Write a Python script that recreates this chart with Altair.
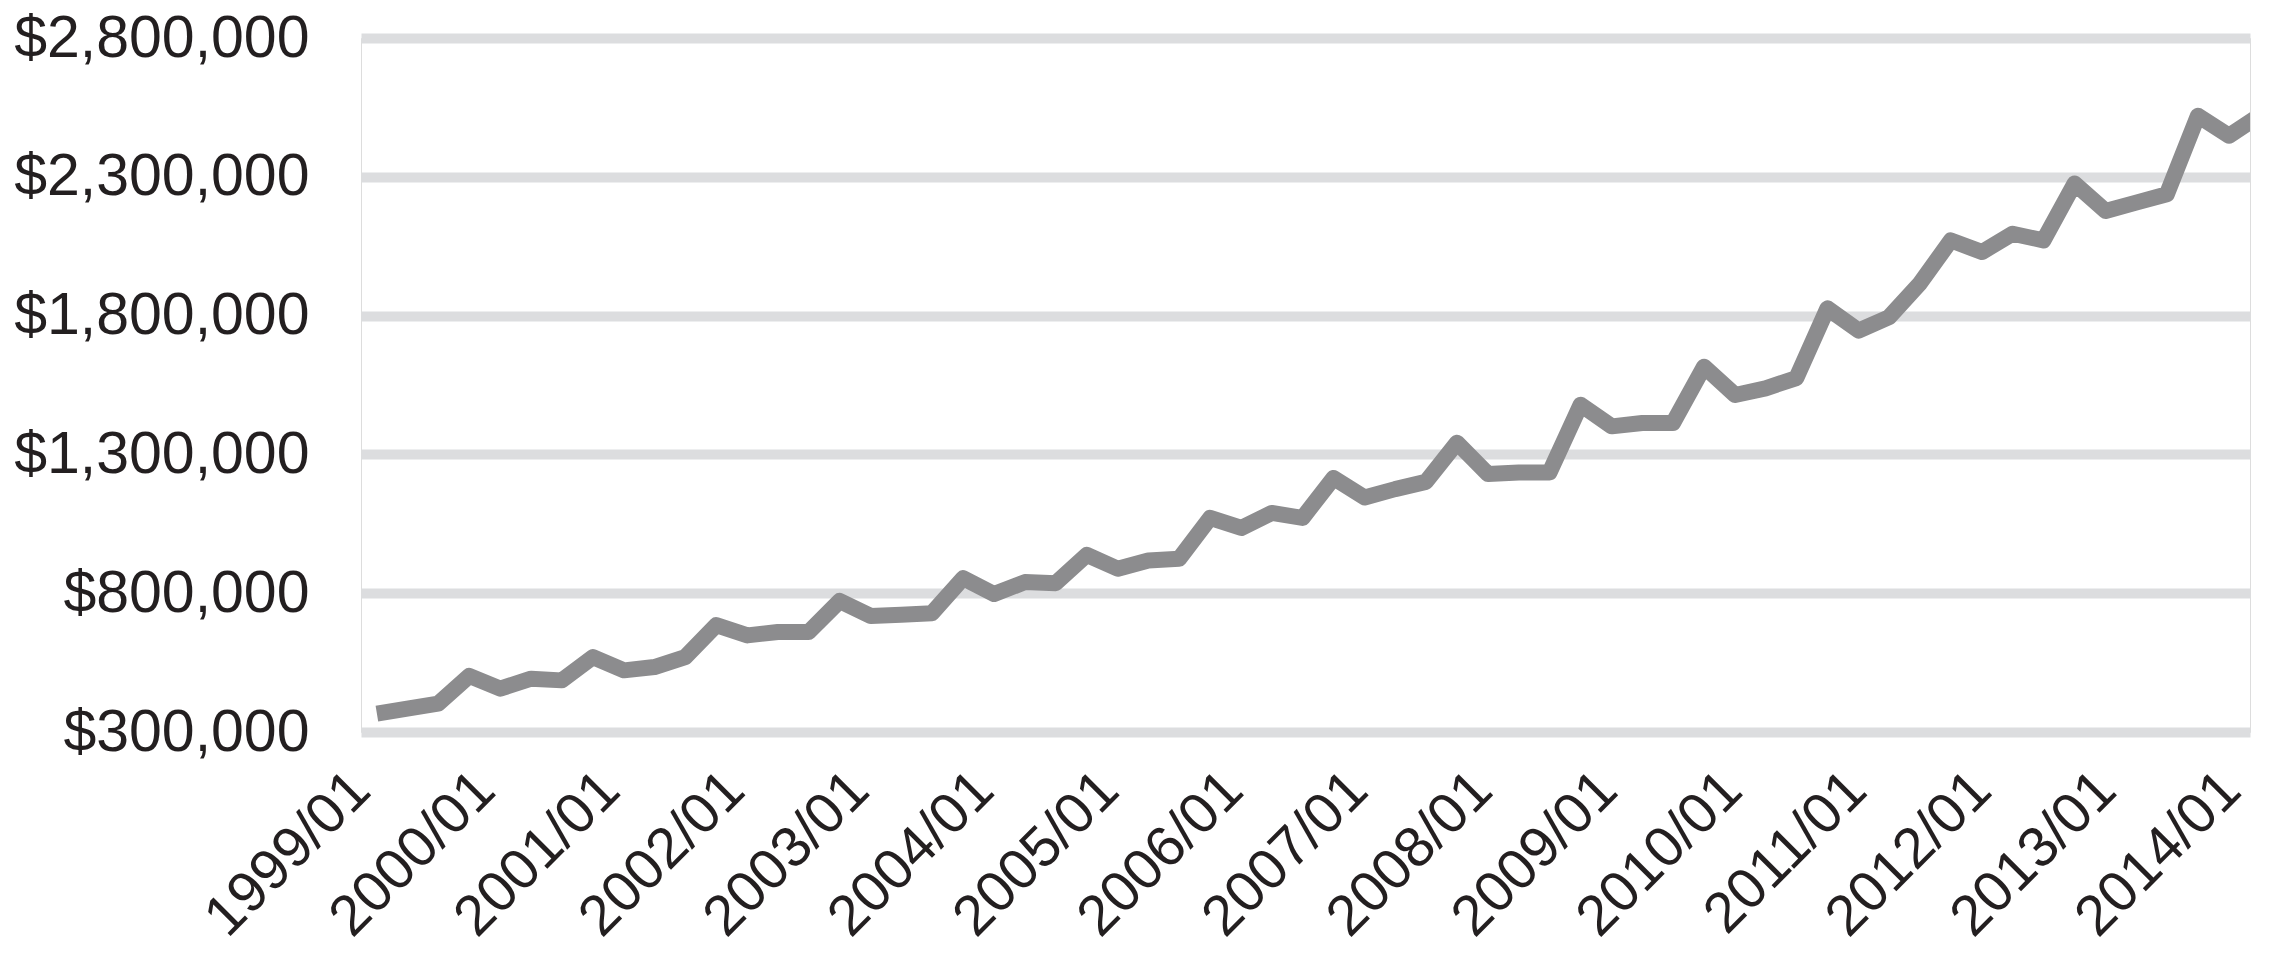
import datetime as dt
import altair as alt
import pandas as pd

# ---- data ----
quarter_months = ["01", "04", "07", "10"]
periods = [f"{y}/{m}" for y in range(1999, 2014) for m in quarter_months] + ["2014/01", "2014/04"]

values = [
    366000, 384000, 402000, 502000,      # 1999
    456000, 492000, 486000, 570000,      # 2000
    522000, 534000, 570000, 685000,      # 2001
    648000, 660000, 660000, 772000,      # 2002
    718000, 722000, 728000, 854000,      # 2003
    797000, 840000, 836000, 938000,      # 2004
    888000, 918000, 924000, 1071000,     # 2005
    1035000, 1089000, 1071000, 1215000,  # 2006
    1145000, 1175000, 1201000, 1342000,  # 2007
    1229000, 1235000, 1235000, 1479000,  # 2008
    1401000, 1413000, 1413000, 1616000,  # 2009
    1514000, 1538000, 1575000, 1826000,  # 2010
    1746000, 1794000, 1915000, 2071000,  # 2011
    2029000, 2095000, 2071000, 2276000,  # 2012
    2177000, 2207000, 2237000, 2520000,  # 2013
    2448000, 2520000,                    # 2014
]

tick_years = list(range(1999, 2015))
y_ticks = [300000, 800000, 1300000, 1800000, 2300000, 2800000]

df = pd.DataFrame({"period": [p + "/01" for p in periods], "value": values})

# label anchors: the reference's year labels sit a little wider apart than the quarters
label_dates = []
for k, y in enumerate(tick_years):
    d = dt.date(y, 1, 1) + dt.timedelta(days=round(3.6 * k))
    label_dates.append(alt.DateTime(year=d.year, month=d.month, date=d.day))

FONT = "Liberation Sans"
TEXT = "#231f20"

chart = (
    alt.Chart(df)
    .mark_line(color="#8c8c8e", strokeWidth=16, strokeJoin="round", clip=True)
    .encode(
        x=alt.X(
            "period:T",
            title=None,
            scale=alt.Scale(
                domain=[
                    alt.DateTime(year=1998, month=11, date=15),
                    alt.DateTime(year=2014, month=3, date=4),
                ]
            ),
            axis=alt.Axis(
                values=label_dates,
                labelExpr="timeFormat(datum.value, '%Y') + '/01'",
                labelAngle=315,
                labelAlign="right",
                labelBaseline="top",
                labelPadding=29,
                labelOffset=-36,
                labelFontSize=57,
                labelFont=FONT,
                labelColor=TEXT,
                labelLimit=0,
                labelOverlap=False,
                labelFlush=False,
                labelBound=False,
                ticks=False,
                tickSize=0,
                domain=False,
                grid=False,
            ),
        ),
        y=alt.Y(
            "value:Q",
            title=None,
            scale=alt.Scale(domain=[300000, 2800000], nice=False, zero=False),
            axis=alt.Axis(
                values=y_ticks,
                format="$,.0f",
                labelFontSize=59,
                labelFont=FONT,
                labelColor=TEXT,
                labelPadding=52,
                labelLimit=0,
                labelOverlap=False,
                labelFlush=False,
                labelBound=False,
                ticks=False,
                tickSize=0,
                domain=False,
                grid=True,
                gridColor="#dcdddf",
                gridWidth=10,
            ),
        ),
    )
    .properties(
        width=1889,
        height=694,
        autosize=alt.AutoSizeParams(type="none"),
        padding={"left": 353, "top": 30, "right": 20, "bottom": 230},
    )
    .configure_view(stroke=None, strokeWidth=0)
    .configure(background="white")
)

chart.save("out.html", embed_options={"renderer": "svg", "actions": False})
